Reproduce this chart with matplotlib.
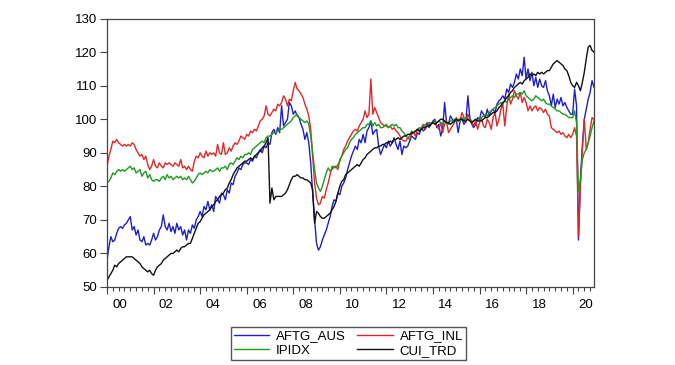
import numpy as np
import matplotlib as mpl
mpl.use('Agg')
import matplotlib.pyplot as plt
from matplotlib.ticker import FixedLocator

plt.rcParams['font.family'] = ['Liberation Sans', 'DejaVu Sans']

# monthly data, 2000M01 - 2020M12
aftg_aus = [
    58, 62, 65, 63.5, 64, 66, 67.5, 68, 67.5, 68.5, 69, 70,
    71, 67, 68, 65.5, 67, 64, 63.5, 65, 62.5, 63, 62.5, 64,
    66, 64, 65, 67, 68, 71.5, 68, 67, 69, 66.5, 68, 66,
    69, 67, 68, 65.5, 67, 64, 67, 66, 68.5, 67.5, 70, 71,
    72.5, 71, 74, 73, 75.5, 73, 74.5, 72.5, 77, 76, 75, 78,
    77.5, 76, 79, 78, 81, 80.5, 83, 84, 85.5, 85, 86.5, 87,
    87, 86.5, 88, 87.5, 89, 88.5, 90, 91, 90, 92, 91.5, 93,
    92.5, 96, 97, 95.5, 97.5, 96, 104, 98, 99, 100, 105, 104,
    101.5, 102.5, 101, 100.5, 98.5, 97, 94, 96, 93, 87, 78, 70,
    63, 61, 62, 64, 65.5, 67, 69, 71, 74, 76, 75.5, 78,
    77.5, 80, 81, 82.5, 85, 87, 89, 90.5, 92, 91, 94, 93,
    95.5, 93, 96.5, 97.5, 99.5, 95.5, 96.5, 97, 92, 89.5, 91, 92.5,
    91.5, 93.5, 92, 93, 94.5, 92.5, 91, 93.5, 89.5, 92, 91.5, 92,
    93.5, 95, 94.5, 94, 96, 95.5, 97.5, 96.5, 97, 99, 97.5, 98.5,
    99.5, 100, 97.5, 98.5, 95, 97, 105, 99, 98.5, 101, 100, 99,
    100, 96, 99.5, 100, 98.5, 99.5, 107, 100.5, 98.5, 97.5, 98.5, 100.5,
    100, 102.5, 101.5, 100.5, 103, 101, 102.5, 103, 102, 104.5, 105.5, 106,
    107, 106, 109, 108, 110.5, 109.5, 111, 113.5, 112, 115, 113, 118.5,
    112, 115, 111.5, 114, 110, 112.5, 109.5, 112, 110, 109.5, 111.5, 108.5,
    107, 104, 107.5, 103.5, 106, 104.5, 106.5, 104, 105, 103.5, 102.5, 101.5,
    101.5, 109, 104, 64, 82, 92, 100, 103, 106, 108, 111.5, 109.5,
]
aftg_inl = [
    86, 89, 91, 93.5, 93, 94, 93, 92.5, 92, 92.5, 92, 92.5,
    92, 93, 92.5, 91, 90, 89, 89.5, 88, 89, 86.5, 85, 86,
    88, 86, 85.5, 87, 86, 85.5, 87, 86.5, 87, 86.5, 86, 87,
    86.5, 86, 88, 85.5, 86, 85, 86, 85, 84.5, 87.5, 89, 88.5,
    90, 89, 88.5, 90.5, 89, 90, 89.5, 90, 89, 92.5, 90, 89.5,
    93, 89.5, 90, 91.5, 90.5, 92, 93, 92.5, 93.5, 95, 94.5, 94,
    95.5, 95, 96.5, 96, 97, 96.5, 98, 99.5, 100, 101, 104, 101.5,
    101, 102, 103, 102.5, 104.5, 104, 105, 107, 106, 104, 106, 105.5,
    108.5, 111, 109, 108.5, 107.5, 106.5, 104.5, 103, 101, 97, 89, 81,
    76.5, 74.5, 75, 77, 76.5, 79, 81, 83.5, 86, 85.5, 86, 85,
    88, 89, 91, 92, 93.5, 94.5, 95.5, 96.5, 97, 96.5, 98, 99,
    100, 102.5, 100.5, 101.5, 112, 101.5, 103.5, 102, 100.5, 99, 98.5, 98,
    98, 97.5, 98, 97, 97.5, 96.5, 96, 95, 94, 93.5, 93.5, 94.5,
    94, 95.5, 96, 95, 97, 96.5, 97.5, 98.5, 97, 98, 99, 98.5,
    99, 99.5, 98, 97, 99, 96, 98.5, 99.5, 96, 97, 98, 99,
    100.5, 99.5, 100, 102, 100.5, 99, 101.5, 100, 99.5, 98, 99.5, 97,
    99, 100.5, 98, 97.5, 100, 99, 97, 100.5, 102, 98, 100, 103,
    104.5, 98, 103.5, 107.5, 104.5, 106, 108.5, 107, 106, 108, 105, 106.5,
    105, 102.5, 104, 102.5, 103.5, 104, 102.5, 103.5, 103, 102, 103, 101.5,
    101, 97.5, 97, 96.5, 96, 96.5, 95.5, 96, 95, 94.5, 95.5, 94.5,
    95.5, 97.5, 95, 65, 80, 91, 100, 91, 93, 97, 100.5, 100,
]
ipidx = [
    81, 81.5, 82.5, 84, 83.5, 84.5, 85, 84.5, 85, 84.5, 85, 85.5,
    86, 85, 85.5, 84, 84.5, 85, 83, 84, 84.5, 82.5, 83.5, 82,
    81.5, 82, 82, 81.5, 82.5, 83, 82, 83.5, 82.5, 83, 82, 82.5,
    83, 82.5, 83, 82, 82.5, 82, 83, 82, 81, 81.5, 82.5, 83.5,
    84, 83.5, 84, 84.5, 84, 85, 84.5, 84.5, 85, 85.5, 84.5, 85.5,
    85.5, 86, 85, 86.5, 87, 86.5, 87.5, 88.5, 88, 89, 88.5, 89.5,
    89.5, 90, 89.5, 91, 91.5, 92, 92.5, 93, 93.5, 93, 94.5, 95,
    95, 95.5, 96, 96, 96.5, 97, 97, 97.5, 98, 98.5, 99, 99.5,
    100.5, 101, 101.5, 100.5, 100, 99.5, 99, 99.5, 98.5, 95, 90, 85,
    81, 79.5, 78.5, 80, 82, 84, 85.5, 84.5, 85, 86, 85.5, 86.5,
    87.5, 89, 90, 91, 91.5, 93, 94, 94.5, 95.5, 96, 96.5, 97,
    97.5, 97.5, 98.5, 98.5, 99.5, 98, 99, 98, 98.5, 97.5, 97.5, 98,
    98.5, 97.5, 98, 98.5, 98, 98.5, 97.5, 97.5, 96.5, 96, 95, 94.5,
    95, 96.5, 96, 96.5, 97, 97.5, 97, 98, 98.5, 98, 98.5, 99,
    99, 99.5, 99, 99.5, 99, 98.5, 99.5, 99, 98.5, 99.5, 99.5, 100,
    99.5, 100, 99.5, 100.5, 100, 100.5, 100, 99.5, 99, 99.5, 100, 99.5,
    100, 100.5, 101, 101.5, 101, 102, 102.5, 103, 103.5, 104, 104.5, 105,
    104.5, 105.5, 105, 106, 106.5, 107, 106.5, 107.5, 107.5, 108, 107.5, 108.5,
    107, 106.5, 106, 105.5, 106, 107, 106.5, 106, 105.5, 106, 105, 104.5,
    104.5, 104, 103.5, 103, 102.5, 102.5, 102, 101.5, 101.5, 101, 100.5, 100.5,
    100.5, 102.5, 99, 78.5, 82, 88, 90, 91, 93, 95, 97.5, 99.5,
]
cui_trd = [
    52, 53, 54, 55, 56.5, 56, 57, 57.5, 58, 58.5, 59, 59,
    59, 59, 58.5, 58, 57.5, 57, 56, 55.5, 55, 54.5, 55, 54,
    53.5, 55, 56, 56.5, 57, 58, 58.5, 59, 59.5, 60, 60, 60.5,
    61, 60.5, 61.5, 62, 62, 62.5, 63, 63, 64.5, 66, 67.5, 69,
    69.5, 70.5, 71.5, 72, 72.5, 73, 74, 74.5, 75.5, 76, 77, 77.5,
    78, 79, 79.5, 81, 82, 83.5, 84.5, 85.5, 86, 86.5, 87, 87.5,
    87.5, 88, 88.5, 88, 89, 89.5, 90, 90.5, 91.5, 92, 93, 94.5,
    75, 79.5, 76, 77, 77, 77, 77, 77.5, 78, 79, 80.5, 82,
    83, 83, 83.5, 83, 82.5, 82.5, 82, 82, 81.5, 81, 79, 69,
    72.5, 72, 71, 70.5, 70.5, 71, 71.5, 72, 73, 74, 75.5, 78,
    80, 81.5, 82, 83.5, 84, 84.5, 85, 85.5, 86, 86.5, 86, 87,
    88, 88.5, 89.5, 90, 90.5, 91, 91.5, 91.5, 92, 92, 92.5, 92.5,
    93, 93, 93.5, 93, 94, 94, 94.5, 94, 94.5, 95, 95, 95.5,
    95.5, 96, 96, 96.5, 97, 96.5, 97, 97.5, 97.5, 98, 98, 98.5,
    99, 98.5, 99, 99.5, 100, 100, 99.5, 99, 99, 98.5, 99, 99.5,
    100, 99.5, 100, 100, 99.5, 99.5, 100, 99.5, 99, 99.5, 100, 99.5,
    99.5, 99.5, 100, 100.5, 100.5, 101, 101.5, 102, 102, 102.5, 103.5, 104,
    105, 105.5, 106.5, 107, 108, 108.5, 109.5, 110, 110.5, 111, 110.5, 111.5,
    112, 112.5, 113.5, 113, 113.5, 113, 114, 113.5, 114, 113.5, 114, 114.5,
    114.5, 115.5, 116.5, 117, 117.5, 117, 116.5, 116, 115, 114.5, 113, 111,
    110, 109.5, 111, 110, 108.5, 111, 114, 118, 121.5, 122, 120.5, 120,
]

t = 2000 + np.arange(len(cui_trd)) / 12.0

fig = plt.figure(figsize=(6.75, 3.65), dpi=100)
ax = fig.add_axes([0.1585, 0.2137, 0.7215, 0.7353])

l_aus, = ax.plot(t, aftg_aus, color='#1f1fc8', lw=1.0, label='AFTG_AUS')
l_inl, = ax.plot(t, aftg_inl, color='#e02828', lw=1.0, label='AFTG_INL')
l_ip, = ax.plot(t, ipidx, color='#1e9a1e', lw=1.0, label='IPIDX')
l_cui, = ax.plot(t, cui_trd, color='#111111', lw=1.0, label='CUI_TRD')

ax.set_xlim(2000, t[-1])
ax.set_ylim(50, 130)
ax.set_yticks(np.arange(50, 131, 10))

# year labels centred in the year, quarterly minor ticks
years = np.arange(2000, 2021, 2)
ax.set_xticks(years + 0.55, ['%02d' % (y % 100) for y in years])
ax.xaxis.set_minor_locator(FixedLocator(np.arange(2000, 2021, 0.25)))
ax.tick_params(axis='x', which='major', length=0, pad=9, labelsize=9.5)
ax.tick_params(axis='x', which='minor', length=3, width=0.8, color='#444444')
ax.tick_params(axis='y', length=5, width=0.8, pad=2, labelsize=9.5, color='#444444')

sec = ax.secondary_xaxis('bottom')
sec.set_xticks(years, [''] * len(years))
sec.tick_params(length=5, width=0.8, color='#444444')
sec.spines['bottom'].set_visible(False)

for s in ax.spines.values():
    s.set_color('#444444')
    s.set_linewidth(0.9)

# column-major fill -> AUS / INL on top row, IPIDX / CUI below
fig.legend([l_aus, l_ip, l_inl, l_cui], ['AFTG_AUS', 'IPIDX', 'AFTG_INL', 'CUI_TRD'],
           loc='center', bbox_to_anchor=(0.516, 0.059), ncol=2, fontsize=9.5,
           frameon=True, fancybox=False, edgecolor='#555555', framealpha=1,
           handlelength=2.7, columnspacing=0.9, handletextpad=0.5,
           borderpad=0.2, labelspacing=0.2)

plt.savefig('out.png', dpi=100)
